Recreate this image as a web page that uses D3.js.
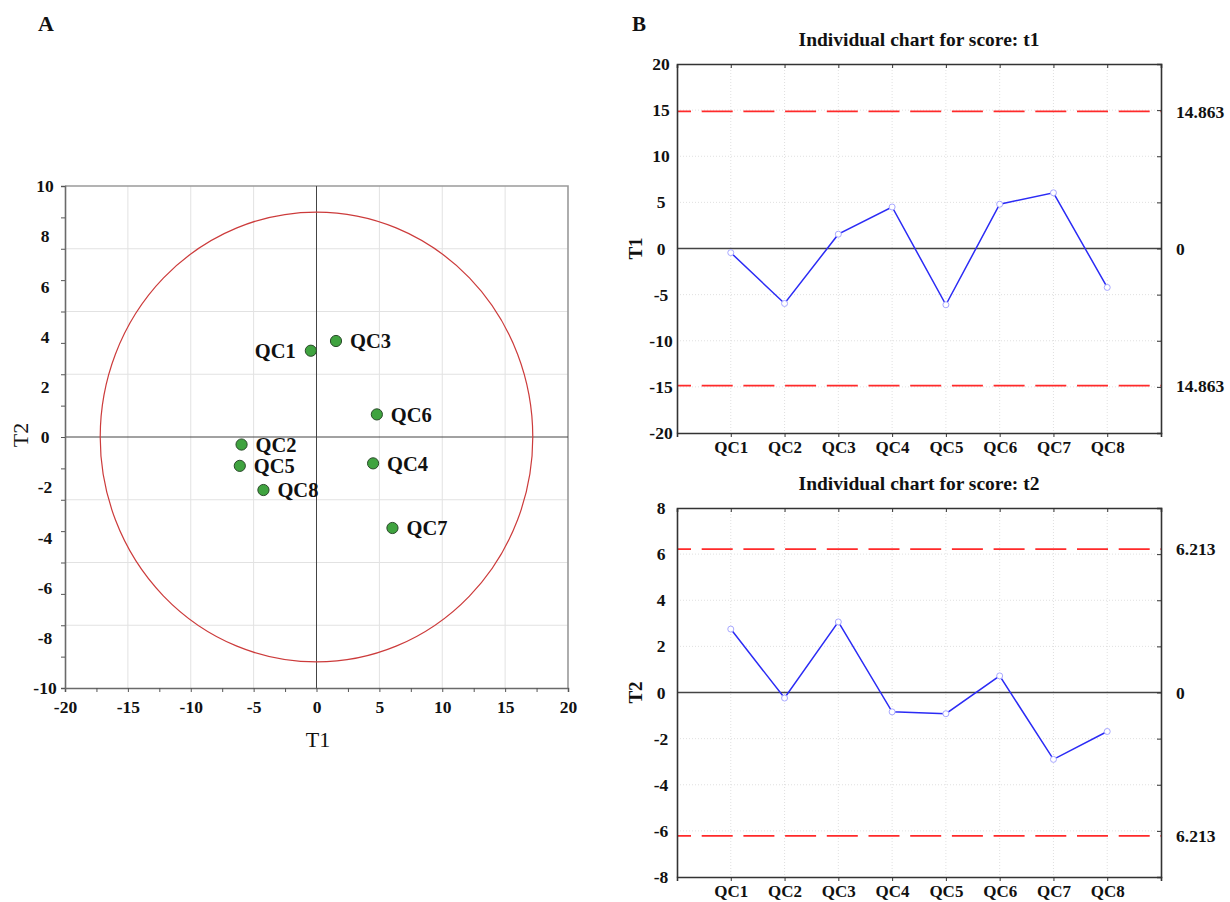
<!DOCTYPE html>
<html><head><meta charset="utf-8">
<script src="https://cdn.jsdelivr.net/npm/d3@7"></script>
<style>
body{margin:0;background:#fff}
svg{display:block}
text{font-family:"Liberation Serif","Times New Roman",serif;fill:#111}
</style>
</head><body>
<svg id="c" width="1230" height="902"></svg>
<script>
// ---------- data ----------
const categories = ["QC1","QC2","QC3","QC4","QC5","QC6","QC7","QC8"];
const t1 = [-0.45, -5.96, 1.55, 4.50, -6.10, 4.80, 6.04, -4.22];
const t2 = [2.75, -0.24, 3.06, -0.84, -0.92, 0.72, -2.90, -1.69];
const ellipseLimits = [17.2, 7.17];      // T1, T2 semi-axes of the confidence ellipse
const t1Limit = 14.863;
const t2Limit = 6.213;
const xTicksA = [-20,-15,-10,-5,0,5,10,15,20];
const yLabelsA = [10,8,6,4,2,0,-2,-4,-6,-8,-10];
const yTicksB1 = [-20,-15,-10,-5,0,5,10,15,20];
const yTicksB2 = [-8,-6,-4,-2,0,2,4,6,8];
const titleB1 = "Individual chart for score: t1";
const titleB2 = "Individual chart for score: t2";

const svg = d3.select("#c");
const fmt = d => String(d);

// ---------- panel A ----------
const A = {l:65, r:568, t:186, b:688};
const xA = d3.scaleLinear().domain([-20,20]).range([A.l, A.r]);
const yA = d3.scaleLinear().domain([-8,8]).range([A.b, A.t]);
const yAlab = d3.scaleLinear().domain([-10,10]).range([A.b, A.t]);

const gA = svg.append("g");
// grid
gA.append("g").selectAll("line").data(d3.range(-15,16,5).filter(v=>v!==0)).join("line")
  .attr("x1",d=>xA(d)).attr("x2",d=>xA(d)).attr("y1",A.t).attr("y2",A.b)
  .attr("stroke","#e2e2e2").attr("stroke-width",1);
gA.append("g").selectAll("line").data(d3.range(-6,7,2).filter(v=>v!==0)).join("line")
  .attr("y1",d=>yA(d)).attr("y2",d=>yA(d)).attr("x1",A.l).attr("x2",A.r)
  .attr("stroke","#e2e2e2").attr("stroke-width",1);
// top/right border
gA.append("path").attr("d",`M${A.l},${A.t}H${A.r}V${A.b}`).attr("fill","none")
  .attr("stroke","#9a9a9a").attr("stroke-width",1.6);
// zero lines
gA.append("line").attr("x1",xA(0)).attr("x2",xA(0)).attr("y1",A.t).attr("y2",A.b)
  .attr("stroke","#444").attr("stroke-width",1);
gA.append("line").attr("y1",yA(0)).attr("y2",yA(0)).attr("x1",A.l).attr("x2",A.r)
  .attr("stroke","#444").attr("stroke-width",1);
// ellipse
gA.append("ellipse").attr("cx",xA(0)).attr("cy",yA(0))
  .attr("rx",xA(ellipseLimits[0])-xA(0)).attr("ry",yA(0)-yA(ellipseLimits[1]))
  .attr("fill","none").attr("stroke","#cc3b3b").attr("stroke-width",1.2);
// bottom axis ticks (every 2.5) and labels (every 5)
const axA_bt = gA.append("g").attr("transform",`translate(0,${A.b})`)
  .call(d3.axisBottom(xA).tickValues(d3.range(-20,20.1,2.5)).tickSize(4).tickFormat(""));
const axA_bl = gA.append("g").attr("transform",`translate(0,${A.b})`)
  .call(d3.axisBottom(xA).tickValues(xTicksA).tickSize(0).tickPadding(13).tickFormat(fmt));
// left axis ticks (every 1 real unit) and labels
const axA_lt = gA.append("g").attr("transform",`translate(${A.l},0)`)
  .call(d3.axisLeft(yA).tickValues(d3.range(-8,8.1,1)).tickSize(4).tickFormat(""));
const axA_ll = gA.append("g").attr("transform",`translate(${A.l},0)`)
  .call(d3.axisLeft(yAlab).tickValues(yLabelsA).tickSize(0).tickPadding(20).tickFormat(fmt));
axA_ll.selectAll("text").attr("text-anchor","middle");
[axA_bt,axA_bl,axA_lt,axA_ll].forEach(g=>{
  g.select(".domain").attr("stroke","#6a6a6a").attr("stroke-width",1.6);
  g.selectAll(".tick line").attr("stroke","#555");
  g.selectAll("text").attr("font-size","17.5px").attr("font-weight","bold")
   .attr("font-family",'"Liberation Serif","Times New Roman",serif').attr("fill","#111");
});
axA_ll.select(".domain").remove(); axA_bl.select(".domain").remove();
// points
const ptsA = categories.map((c,i)=>({name:c, x:t1[i], y:t2[i]}));
gA.append("g").selectAll("circle").data(ptsA).join("circle")
  .attr("cx",d=>xA(d.x)).attr("cy",d=>yA(d.y)).attr("r",5.6)
  .attr("fill","#3fa33f").attr("stroke","#2a4a2a").attr("stroke-width",1);
gA.append("g").selectAll("text").data(ptsA).join("text")
  .attr("x",d=>xA(d.x) + (d.name==="QC1" ? -15 : 14))
  .attr("y",d=>yA(d.y)).attr("dy","0.35em")
  .attr("text-anchor",d=>d.name==="QC1"?"end":"start")
  .attr("font-size","20.5px").attr("font-weight","bold").text(d=>d.name);
// axis titles
svg.append("text").attr("x",318).attr("y",747).attr("text-anchor","middle")
  .attr("font-size","22px").text("T1");
svg.append("text").attr("transform","translate(28,435) rotate(-90)").attr("text-anchor","middle")
  .attr("font-size","22px").text("T2");
svg.append("text").attr("x",46).attr("y",31).attr("text-anchor","middle")
  .attr("font-size","22px").attr("font-weight","bold").text("A");
svg.append("text").attr("x",632).attr("y",31)
  .attr("font-size","21px").attr("font-weight","bold").text("B");

// ---------- panel B ----------
const xB = d3.scalePoint().domain(categories).range([677,1161]).padding(1);

function controlChart(cfg){
  const {top,bottom,domain,ticks,values,limit,title,ylab,titleY} = cfg;
  const L=677, R=1161;
  const y = d3.scaleLinear().domain(domain).range([bottom, top]);
  const g = svg.append("g");
  // grid (dotted)
  g.append("g").selectAll("line").data(categories).join("line")
    .attr("x1",d=>xB(d)).attr("x2",d=>xB(d)).attr("y1",top).attr("y2",bottom)
    .attr("stroke","#d8d8d8").attr("stroke-width",0.8).attr("stroke-dasharray","1,2");
  g.append("g").selectAll("line").data(ticks.filter(v=>v!==domain[0]&&v!==domain[1]&&v!==0)).join("line")
    .attr("y1",d=>y(d)).attr("y2",d=>y(d)).attr("x1",L).attr("x2",R)
    .attr("stroke","#d8d8d8").attr("stroke-width",0.8).attr("stroke-dasharray","1,2");
  // control limits
  g.append("g").selectAll("line").data([limit,-limit]).join("line")
    .attr("y1",d=>y(d)).attr("y2",d=>y(d)).attr("x1",L).attr("x2",R)
    .attr("stroke","#ff2a2a").attr("stroke-width",1.8)
    .attr("stroke-dasharray","31,10.7").attr("stroke-dashoffset",17);
  // zero line
  g.append("line").attr("y1",y(0)).attr("y2",y(0)).attr("x1",L).attr("x2",R)
    .attr("stroke","#444").attr("stroke-width",1.6);
  // axes
  const axTop = g.append("g").attr("transform",`translate(0,${top})`)
    .call(d3.axisTop(xB).tickSize(-4).tickFormat(""));
  const axBot = g.append("g").attr("transform",`translate(0,${bottom})`)
    .call(d3.axisBottom(xB).tickSize(4).tickPadding(4));
  const axLeft = g.append("g").attr("transform",`translate(${L},0)`)
    .call(d3.axisLeft(y).tickValues(ticks).tickSize(0).tickPadding(16).tickFormat(fmt));
  axLeft.selectAll("text").attr("text-anchor","middle");
  const axRight = g.append("g").attr("transform",`translate(${R},0)`)
    .call(d3.axisRight(y).tickValues(ticks.filter(v=>v!==domain[0]&&v!==domain[1])).tickSize(-4).tickFormat(""));
  [axTop,axBot,axLeft,axRight].forEach(a=>{
    a.select(".domain").attr("stroke","#333").attr("stroke-width",1.6);
    a.selectAll(".tick line").attr("stroke","#333");
    a.selectAll("text").attr("font-size","17.5px").attr("font-weight","bold")
     .attr("font-family",'"Liberation Serif","Times New Roman",serif').attr("fill","#111");
  });
  axBot.selectAll("text").attr("font-size","17px");
  // series
  const pts = categories.map((c,i)=>({c, v:values[i]}));
  g.append("path").datum(pts)
    .attr("d",d3.line().x(d=>xB(d.c)).y(d=>y(d.v)))
    .attr("fill","none").attr("stroke","#2b2bf5").attr("stroke-width",1.5);
  g.append("g").selectAll("circle").data(pts).join("circle")
    .attr("cx",d=>xB(d.c)).attr("cy",d=>y(d.v)).attr("r",3)
    .attr("fill","#fff").attr("stroke","#a8a8ff").attr("stroke-width",1);
  // right limit labels
  const rl = [{v:limit,t:String(limit)},{v:0,t:"0"},{v:-limit,t:String(limit)}];
  g.append("g").selectAll("text").data(rl).join("text")
    .attr("x",1176).attr("y",d=>y(d.v)).attr("dy","0.35em")
    .attr("font-size","17.5px").attr("font-weight","bold").text(d=>d.t);
  // title & y label
  g.append("text").attr("x",(L+R)/2).attr("y",titleY).attr("text-anchor","middle")
    .attr("font-size","19.5px").attr("font-weight","bold").text(title);
  g.append("text").attr("transform",`translate(642,${y(0)}) rotate(-90)`).attr("text-anchor","middle")
    .attr("font-size","19px").attr("font-weight","bold").text(ylab);
}

controlChart({top:64,bottom:433,domain:[-20,20],ticks:yTicksB1,values:t1,limit:t1Limit,
  title:titleB1,ylab:"T1",titleY:46});
controlChart({top:508,bottom:877,domain:[-8,8],ticks:yTicksB2,values:t2,limit:t2Limit,
  title:titleB2,ylab:"T2",titleY:490});
</script>
</body></html>
